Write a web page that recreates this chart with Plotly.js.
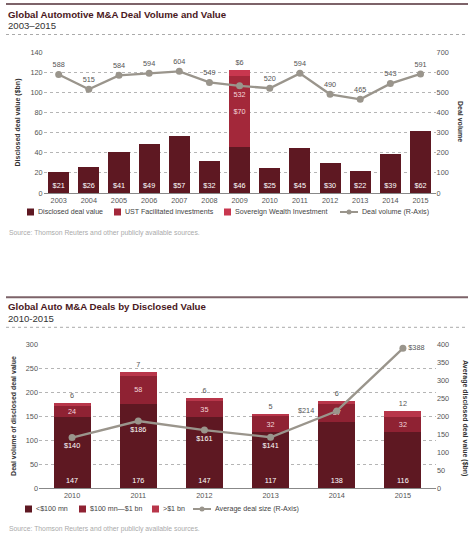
<!DOCTYPE html>
<html>
<head>
<meta charset="utf-8">
<script src="https://cdn.plot.ly/plotly-3.0.1.min.js"></script>
<style>html,body{margin:0;padding:0;background:#fff;}#chart{width:474px;height:535px;}</style>
</head>
<body>
<div id="chart"></div>
<script>
// ---------- Data: chart 1 ----------
const years1 = ['2003','2004','2005','2006','2007','2008','2009','2010','2011','2012','2013','2014','2015'];
const disclosedValue = [21, 26, 41, 49, 57, 32, 46, 25, 45, 30, 22, 39, 62];
const ustInvestments = [null, null, null, null, null, null, 70, null, null, null, null, null, null];
const swfInvestment = [null, null, null, null, null, null, 6, null, null, null, null, null, null];
const dealVolume = [588, 515, 584, 594, 604, 549, 532, 520, 594, 490, 465, 543, 591];
const seriesNames1 = ['Disclosed deal value', 'UST Facilitated investments', 'Sovereign Wealth Investment', 'Deal volume (R-Axis)'];
const yTicks1 = [0, 20, 40, 60, 80, 100, 120, 140];
const y2Ticks1 = [0, 100, 200, 300, 400, 500, 600, 700];

// ---------- Data: chart 2 ----------
const years2 = ['2010','2011','2012','2013','2014','2015'];
const under100mn = [147, 176, 147, 117, 138, 116];
const mid100mnTo1bn = [24, 58, 35, 32, 37, 32];
const over1bn = [6, 7, 6, 5, 6, 12];
const avgDealSize = [140, 186, 161, 141, 214, 388];
const seriesNames2 = ['<$100 mn', '$100 mn\u2014$1 bn', '>$1 bn', 'Average deal size (R-Axis)'];
const yTicks2 = [0, 50, 100, 150, 200, 250, 300];
const y2Ticks2 = [0, 50, 100, 150, 200, 250, 300, 350, 400];

// ---------- Styling ----------
const W = 474, H = 535;
const FONT = 'Liberation Sans, Arial, Helvetica, sans-serif';
const C_DARK = '#5e1822', C_MID = '#a3283a', C_LIGHT = '#c8374f';
const C2_MID = '#8f2233', C2_LIGHT = '#b8364a';
const C_LINE = '#9a958c';
const TICK = {family: FONT, size: 7.3, color: '#555'};
const px = x => x / W;
const py = y => 1 - y / H;
const dollar = v => (v == null ? '' : '$' + v);
const plain = v => (v == null ? '' : String(v));

// label placement for the average-deal-size line (per point)
const avgLabelPos = ['bottom center', 'bottom center', 'bottom center', 'bottom center', 'left', 'middle right'];
const avgLabelColor = ['#fff', '#fff', '#fff', '#fff', '#555', '#555'];

const traces = [
  // chart 1
  {type: 'bar', x: years1, y: disclosedValue, name: seriesNames1[0], xaxis: 'x', yaxis: 'y',
   marker: {color: C_DARK}, width: 0.7, text: disclosedValue.map(dollar), textposition: 'inside',
   insidetextanchor: 'start', constraintext: 'none', textangle: 0,
   textfont: {family: FONT, size: 7.3, color: '#fff'}, hoverinfo: 'skip', showlegend: false},
  {type: 'bar', x: years1, y: ustInvestments, name: seriesNames1[1], xaxis: 'x', yaxis: 'y',
   marker: {color: C_MID}, width: 0.7, text: ustInvestments.map(dollar), textposition: 'inside',
   insidetextanchor: 'middle', constraintext: 'none', textangle: 0,
   textfont: {family: FONT, size: 7.3, color: '#f3d6da'}, hoverinfo: 'skip', showlegend: false},
  {type: 'bar', x: years1, y: swfInvestment, name: seriesNames1[2], xaxis: 'x', yaxis: 'y',
   marker: {color: C_LIGHT}, width: 0.7, text: swfInvestment.map(dollar), textposition: 'outside',
   constraintext: 'none', textangle: 0, cliponaxis: false,
   textfont: {family: FONT, size: 7.3, color: '#555'}, hoverinfo: 'skip', showlegend: false},
  {type: 'scatter', mode: 'lines+markers+text', x: years1, y: dealVolume, name: seriesNames1[3],
   xaxis: 'x', yaxis: 'y2', line: {color: C_LINE, width: 2.3}, marker: {color: C_LINE, size: 7},
   text: dealVolume.map(plain),
   textposition: years1.map(y => y === '2009' ? 'bottom center' : 'top center'),
   textfont: {family: FONT, size: 7.3, color: years1.map(y => y === '2009' ? '#f3d6da' : '#555')},
   cliponaxis: false, hoverinfo: 'skip', showlegend: false},
  // chart 2
  {type: 'bar', x: years2, y: under100mn, name: seriesNames2[0], xaxis: 'x2', yaxis: 'y3',
   marker: {color: C_DARK}, width: 0.56, text: under100mn.map(plain), textposition: 'inside',
   insidetextanchor: 'start', constraintext: 'none', textangle: 0,
   textfont: {family: FONT, size: 7.3, color: '#fff'}, hoverinfo: 'skip', showlegend: false},
  {type: 'bar', x: years2, y: mid100mnTo1bn, name: seriesNames2[1], xaxis: 'x2', yaxis: 'y3',
   marker: {color: C2_MID}, width: 0.56, text: mid100mnTo1bn.map(plain), textposition: 'inside',
   insidetextanchor: 'middle', constraintext: 'none', textangle: 0,
   textfont: {family: FONT, size: 7.3, color: '#f3d6da'}, hoverinfo: 'skip', showlegend: false},
  {type: 'bar', x: years2, y: over1bn, name: seriesNames2[2], xaxis: 'x2', yaxis: 'y3',
   marker: {color: C2_LIGHT}, width: 0.56, text: over1bn.map(plain), textposition: 'outside',
   constraintext: 'none', textangle: 0, cliponaxis: false,
   textfont: {family: FONT, size: 7.3, color: '#555'}, hoverinfo: 'skip', showlegend: false},
  {type: 'scatter', mode: 'lines+markers+text', x: years2, y: avgDealSize, name: seriesNames2[3],
   xaxis: 'x2', yaxis: 'y4', line: {color: C_LINE, width: 2.3}, marker: {color: C_LINE, size: 7},
   text: avgDealSize.map((v, i) => avgLabelPos[i] === 'left' ? '' : dollar(v)),
   textposition: avgLabelPos.map(p => p === 'left' ? 'middle left' : p),
   textfont: {family: FONT, size: 7.3, color: avgLabelColor},
   cliponaxis: false, hoverinfo: 'skip', showlegend: false}
];

const gridY = {showgrid: true, gridcolor: '#b5b5b5', griddash: 'dot', gridwidth: 1, zeroline: false,
  ticks: '', tickfont: TICK, showline: false, fixedrange: true};
const axTitleFont = {family: FONT, size: 7, color: '#333', weight: 'bold'};

const layout = {
  width: W, height: H, margin: {l: 0, r: 0, t: 0, b: 0},
  paper_bgcolor: '#fff', plot_bgcolor: '#fff', barmode: 'stack', showlegend: false,
  font: {family: FONT},
  xaxis: {domain: [px(43.6), px(435.6)], anchor: 'y', type: 'category', ticks: '', tickfont: TICK,
    range: [-0.5, years1.length - 0.5],
    showline: true, linecolor: '#888', linewidth: 1, showgrid: false, fixedrange: true},
  yaxis: Object.assign({}, gridY, {domain: [py(193), py(52)], anchor: 'x', range: [0, 140], tickvals: yTicks1,
    title: {text: 'Disclosed deal value ($bn)', font: axTitleFont, standoff: 8}}),
  yaxis2: {overlaying: 'y', side: 'right', anchor: 'x', range: [0, 700], tickvals: y2Ticks1, showgrid: false,
    zeroline: false, ticks: '', tickfont: TICK, fixedrange: true},
  xaxis2: {domain: [px(39), px(436)], anchor: 'y3', type: 'category', ticks: '', tickfont: TICK,
    range: [-0.5, years2.length - 0.5],
    showline: true, linecolor: '#888', linewidth: 1, showgrid: false, fixedrange: true},
  yaxis3: Object.assign({}, gridY, {domain: [py(488), py(344)], anchor: 'x2', range: [0, 300], tickvals: yTicks2,
    title: {text: 'Deal volume of disclosed deal value', font: axTitleFont, standoff: 8}}),
  yaxis4: {overlaying: 'y3', side: 'right', anchor: 'x2', range: [0, 400], tickvals: y2Ticks2, showgrid: false,
    zeroline: false, ticks: '', tickfont: TICK, fixedrange: true},
  shapes: [],
  annotations: []
};

// right-axis titles read top-to-bottom, as in the reference
function rightTitle(x, y, text) {
  layout.annotations.push({xref: 'paper', yref: 'paper', x: px(x), y: py(y), xanchor: 'center', yanchor: 'middle',
    textangle: 90, showarrow: false, text: text, font: axTitleFont});
}
rightTitle(461, 121, 'Deal volume');
rightTitle(465, 418, 'Average disclosed deal value ($bn)');

// "$214" label sits to the left of its point, clear of the 2014 bar (x given as category index)
avgLabelPos.forEach((p, i) => {
  if (p === 'left') {
    layout.annotations.push({xref: 'x2', yref: 'y4', x: i, y: avgDealSize[i], xanchor: 'right', yanchor: 'middle',
      xshift: -21, showarrow: false, text: dollar(avgDealSize[i]),
      font: {family: FONT, size: 7.3, color: avgLabelColor[i]}});
  }
});

function header(ruleY, titleY, subY, dotY, title, sub) {
  layout.shapes.push({type: 'line', xref: 'paper', yref: 'paper', x0: px(6), x1: px(468), y0: py(ruleY), y1: py(ruleY),
    line: {color: '#7d6369', width: 2}});
  layout.shapes.push({type: 'line', xref: 'paper', yref: 'paper', x0: px(6), x1: px(468), y0: py(dotY), y1: py(dotY),
    line: {color: '#aaa', width: 1, dash: 'dot'}});
  layout.annotations.push({xref: 'paper', yref: 'paper', x: px(6), y: py(titleY), xanchor: 'left', yanchor: 'middle',
    showarrow: false, text: title, font: {family: FONT, size: 9.7, color: '#4a1822', weight: 'bold'}});
  layout.annotations.push({xref: 'paper', yref: 'paper', x: px(6), y: py(subY), xanchor: 'left', yanchor: 'middle',
    showarrow: false, text: sub, font: {family: FONT, size: 9.6, color: '#333'}});
}
function source(y) {
  layout.annotations.push({xref: 'paper', yref: 'paper', x: px(7), y: py(y), xanchor: 'left', yanchor: 'middle',
    showarrow: false, text: 'Source: Thomson Reuters and other publicly available sources.',
    font: {family: FONT, size: 6.8, color: '#aaa'}});
}
function legendSquare(x, y, color, label) {
  layout.shapes.push({type: 'rect', xref: 'paper', yref: 'paper', x0: px(x), x1: px(x + 7), y0: py(y - 3.5), y1: py(y + 3.5),
    fillcolor: color, line: {width: 0}});
  layout.annotations.push({xref: 'paper', yref: 'paper', x: px(x + 9), y: py(y), xanchor: 'left', yanchor: 'middle',
    showarrow: false, text: label, font: {family: FONT, size: 7.1, color: '#444'}});
}
function legendLine(x, y, label) {
  layout.shapes.push({type: 'line', xref: 'paper', yref: 'paper', x0: px(x), x1: px(x + 18), y0: py(y), y1: py(y),
    line: {color: C_LINE, width: 2}});
  layout.shapes.push({type: 'circle', xref: 'paper', yref: 'paper', x0: px(x + 6.5), x1: px(x + 11.5), y0: py(y - 2.5), y1: py(y + 2.5),
    fillcolor: C_LINE, line: {width: 0}});
  layout.annotations.push({xref: 'paper', yref: 'paper', x: px(x + 20), y: py(y), xanchor: 'left', yanchor: 'middle',
    showarrow: false, text: label, font: {family: FONT, size: 7.1, color: '#444'}});
}

header(4, 14.7, 25.5, 34.5, 'Global Automotive M&amp;A Deal Volume and Value', '2003\u20132015');
legendSquare(27, 212, C_DARK, seriesNames1[0]);
legendSquare(114, 212, C_MID, seriesNames1[1]);
legendSquare(224, 212, C_LIGHT, seriesNames1[2]);
legendLine(340, 212, seriesNames1[3]);
source(232.7);

header(297.3, 306.7, 318.7, 327.3, 'Global Auto M&amp;A Deals by Disclosed Value', '2010-2015');
legendSquare(25, 509, C_DARK, seriesNames2[0]);
legendSquare(79, 509, C2_MID, seriesNames2[1]);
legendSquare(152, 509, C2_LIGHT, seriesNames2[2]);
legendLine(193, 509, seriesNames2[3]);
source(529.3);

Plotly.newPlot('chart', traces, layout, {displayModeBar: false, staticPlot: true});
</script>
</body>
</html>
